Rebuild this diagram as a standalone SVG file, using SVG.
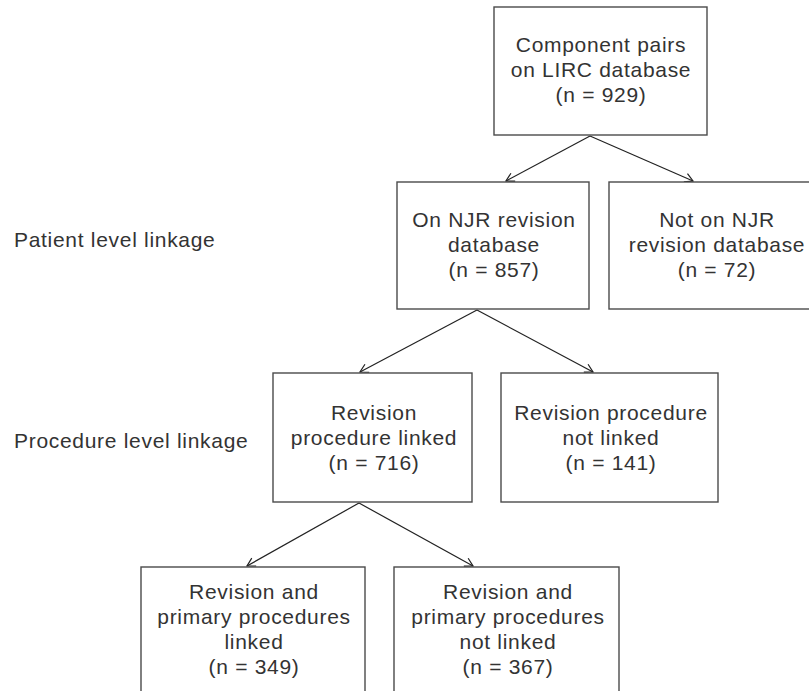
<svg xmlns="http://www.w3.org/2000/svg" width="809" height="691" viewBox="0 0 809 691">
<style>
.box{fill:#fff;stroke:#4a4a4a;stroke-width:1.4}
.t{font-family:"Liberation Sans",Arial,sans-serif;font-size:21px;letter-spacing:0.7px;fill:#333;text-anchor:middle}
.lbl{font-family:"Liberation Sans",Arial,sans-serif;font-size:21px;letter-spacing:0.7px;fill:#333}
.c{fill:none;stroke:#222;stroke-width:1.2}
</style>
<defs>
<marker id="ah" markerUnits="userSpaceOnUse" markerWidth="12" markerHeight="12" viewBox="-10 -6 12 12" refX="0" refY="0" orient="auto">
<path d="M-8,-4.5 L0,0 L-8,4.5" fill="none" stroke="#222" stroke-width="1.2"/>
</marker>
</defs>
<rect width="809" height="691" fill="#fff"/>
<g id="connectors">
<line class="c" x1="590" y1="136" x2="506" y2="181" marker-end="url(#ah)"/>
<line class="c" x1="590" y1="136" x2="693" y2="181" marker-end="url(#ah)"/>
<line class="c" x1="477" y1="310" x2="360" y2="372" marker-end="url(#ah)"/>
<line class="c" x1="477" y1="310" x2="593" y2="372" marker-end="url(#ah)"/>
<line class="c" x1="359" y1="503" x2="247" y2="566" marker-end="url(#ah)"/>
<line class="c" x1="359" y1="503" x2="473" y2="566" marker-end="url(#ah)"/>
</g>
<g id="label-patient"><text class="lbl" x="14" y="247">Patient level linkage</text></g>
<g id="label-procedure"><text class="lbl" x="14" y="448">Procedure level linkage</text></g>
<g id="n-lirc">
<rect class="box" x="494" y="7" width="213" height="128"/>
<text class="t" x="601" y="52">Component pairs</text>
<text class="t" x="601" y="77">on LIRC database</text>
<text class="t" x="601" y="102">(n = 929)</text>
</g>
<g id="n-njr">
<rect class="box" x="397" y="182" width="192" height="127"/>
<text class="t" x="494" y="227">On NJR revision</text>
<text class="t" x="494" y="252">database</text>
<text class="t" x="494" y="277">(n = 857)</text>
</g>
<g id="n-notnjr">
<rect class="box" x="609" y="182" width="217" height="127"/>
<text class="t" x="717" y="227">Not on NJR</text>
<text class="t" x="717" y="252">revision database</text>
<text class="t" x="717" y="277">(n = 72)</text>
</g>
<g id="n-revlinked">
<rect class="box" x="273" y="373" width="199" height="129"/>
<text class="t" x="374" y="420">Revision</text>
<text class="t" x="374" y="445">procedure linked</text>
<text class="t" x="374" y="470">(n = 716)</text>
</g>
<g id="n-revnotlinked">
<rect class="box" x="501" y="373" width="217" height="129"/>
<text class="t" x="611" y="420">Revision procedure</text>
<text class="t" x="611" y="445">not linked</text>
<text class="t" x="611" y="470">(n = 141)</text>
</g>
<g id="n-bothlinked">
<rect class="box" x="141" y="567" width="224" height="140"/>
<text class="t" x="254" y="599">Revision and</text>
<text class="t" x="254" y="624">primary procedures</text>
<text class="t" x="254" y="649">linked</text>
<text class="t" x="254" y="674">(n = 349)</text>
</g>
<g id="n-bothnotlinked">
<rect class="box" x="394" y="567" width="225" height="140"/>
<text class="t" x="508" y="599">Revision and</text>
<text class="t" x="508" y="624">primary procedures</text>
<text class="t" x="508" y="649">not linked</text>
<text class="t" x="508" y="674">(n = 367)</text>
</g>
</svg>
